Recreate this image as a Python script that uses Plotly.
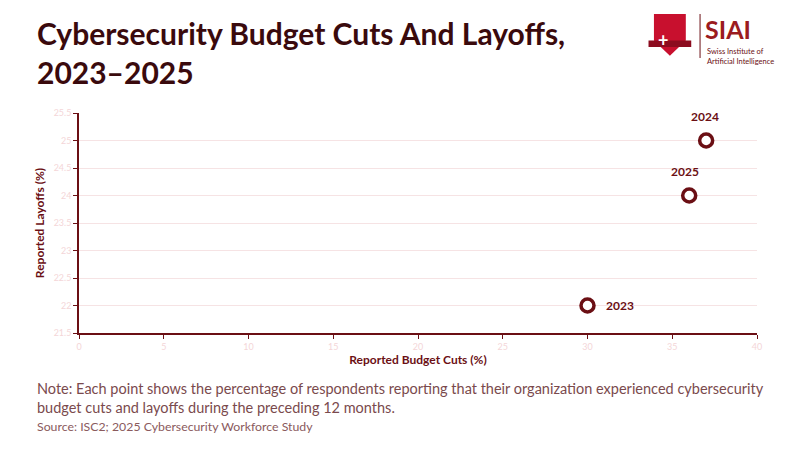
import plotly.graph_objects as go

# --- Daten ---
years = ["2023", "2024", "2025"]
budget_cuts = [30, 37, 36]
layoffs = [22, 25, 24]
# Beschriftungs-Versatz (px) je Punkt
label_dx = [32, -1, -4]
label_dy = [0, 24, 24]

DARK = "#6b0f14"
TICK = "#f4d6d8"
GRID = "#f6e3e4"

fig = go.Figure()
fig.add_trace(go.Scatter(
    x=budget_cuts, y=layoffs, mode="markers",
    marker=dict(size=13, color="white", line=dict(color=DARK, width=3.5)),
    showlegend=False, cliponaxis=False,
))
for yr, x, y, dx, dy in zip(years, budget_cuts, layoffs, label_dx, label_dy):
    fig.add_annotation(x=x, y=y, text=f"<b>{yr}</b>", showarrow=False,
                       xshift=dx, yshift=dy,
                       font=dict(family="Lato", size=12, color=DARK))

axis_common = dict(
    showline=True, linecolor=DARK, linewidth=1.5,
    ticks="outside", tickcolor=DARK, ticklen=4,
    tickfont=dict(family="Lato", size=9, color=TICK),
    zeroline=False,
)
fig.update_xaxes(range=[0, 40], dtick=5, showgrid=False,
                 title=dict(text="<b>Reported Budget Cuts (%)</b>",
                            font=dict(family="Lato", size=12, color=DARK), standoff=4),
                 **axis_common)
fig.update_yaxes(range=[21.5, 25.5], dtick=0.5, showgrid=True, gridcolor=GRID,
                 title=dict(text="<b>Reported Layoffs (%)</b>",
                            font=dict(family="Lato", size=12, color=DARK), standoff=6),
                 **axis_common)

fig.update_layout(
    width=800, height=450,
    paper_bgcolor="white", plot_bgcolor="white",
    margin=dict(l=71, r=51, t=105, b=125),
)

def note(text, x, y, size, color, **kw):
    fig.add_annotation(text=text, xref="paper", yref="paper", x=x, y=y,
                       xanchor="left", yanchor="top", showarrow=False, align="left",
                       font=dict(family="Lato", size=size, color=color), **kw)

# Titel
note("<b>Cybersecurity Budget Cuts And Layoffs,<br>2023–2025</b>", -0.065, 1.455, 30, "#3a0a0d")

# Fußnote
note("Note: Each point shows the percentage of respondents reporting that their organization experienced cybersecurity<br>budget cuts and layoffs during the preceding 12 months.",
     -0.065, -0.205, 14.5, "#7a4a4d")
note("Source: ISC2; 2025 Cybersecurity Workforce Study", -0.065, -0.38, 12.3, "#8a5a5d")

# Logo (vereinfacht)
fig.add_shape(type="path", xref="paper", yref="paper",
              path="M 0.848 1.45 L 0.895 1.45 L 0.895 1.33 L 0.8715 1.26 L 0.848 1.33 Z",
              fillcolor="#c8102e", line=dict(width=0))
fig.add_shape(type="rect", xref="paper", yref="paper", x0=0.840, x1=0.903, y0=1.30, y1=1.33,
              fillcolor="#8c0c1f", line=dict(width=0))
fig.add_annotation(text="<b>+</b>", xref="paper", yref="paper", x=0.8715, y=1.39,
                   showarrow=False, font=dict(size=18, color="white", family="Lato"))
fig.add_shape(type="line", xref="paper", yref="paper", x0=0.916, x1=0.916, y0=1.25, y1=1.45,
              line=dict(color=DARK, width=1))
note("<b>SIAI</b>", 0.92, 1.46, 25, "#9b1b20")
note("Swiss Institute of<br>Artificial Intelligence", 0.923, 1.31, 7.5, DARK)

fig.write_html("out.html")
